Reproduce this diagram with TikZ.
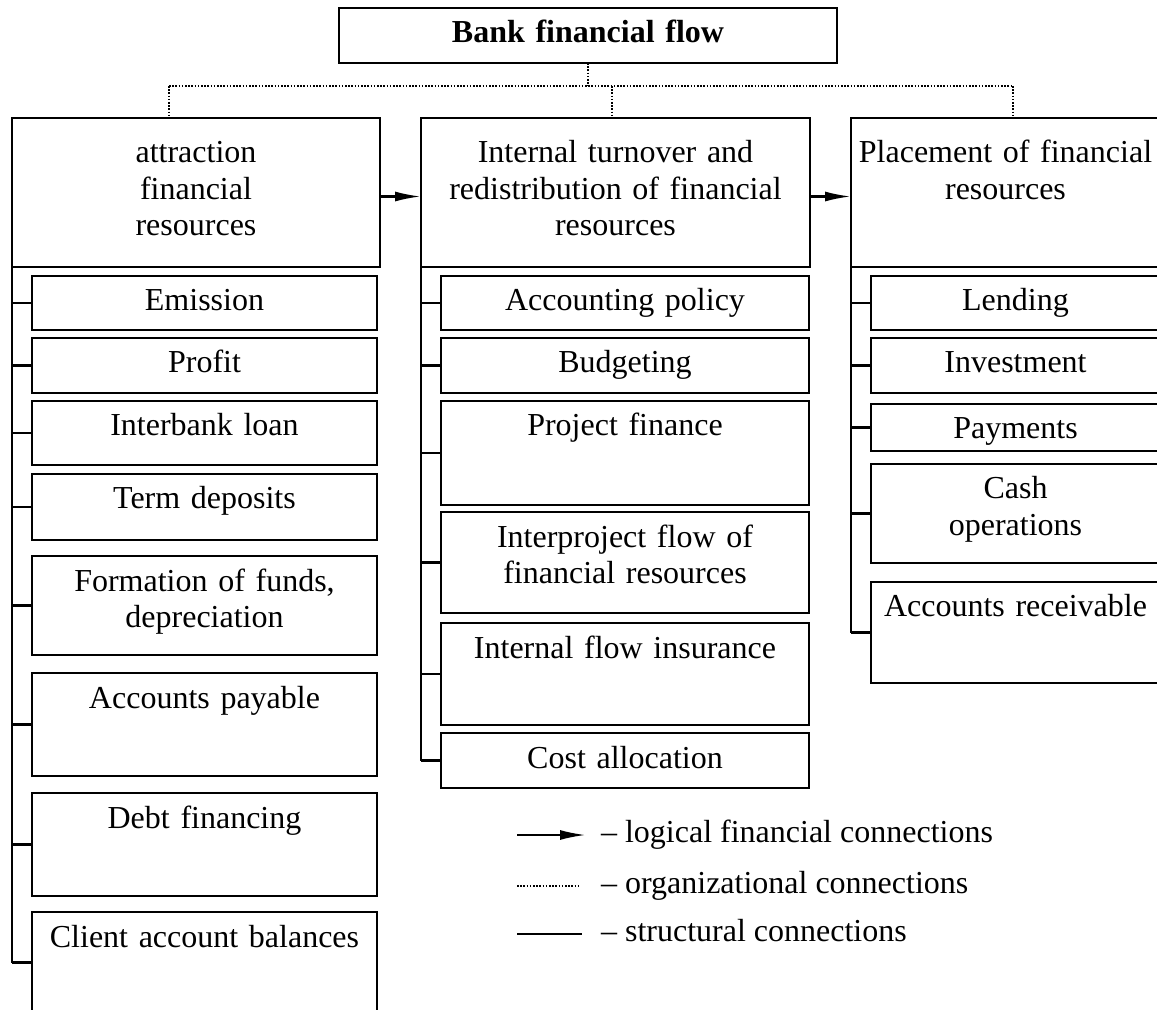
\documentclass[tikz,border=0pt]{standalone}
\usepackage{fontspec}
\setmainfont{Liberation Serif}
\usetikzlibrary{arrows.meta}

\tikzset{
  box/.style={draw, line width=1.15pt, outer sep=0pt, inner xsep=3pt, inner ysep=0pt,
    align=center, anchor=north west, text height=17.5pt},
  head/.style={box, text height=22.5pt, text depth=52pt},
  org/.style={line width=1.1pt, dash pattern=on 0.8pt off 0.8pt},
  fin/.style={line width=1.15pt, -{Latex[length=13pt,width=5pt]}},
  str/.style={line width=1.15pt},
  legtext/.style={anchor=west, text height=11pt, text depth=3.5pt}
}

\begin{document}
\begin{tikzpicture}[x=0.5pt, y=-0.5pt, font=\fontsize{16}{18.25}\selectfont]
  \useasboundingbox (0,0) rectangle (1157,1010);

  % top and the three headers
  \node[box, text width=243pt, text depth=10pt] (title) at (339,8) {\textbf{Bank financial flow}};
  \node[head, text width=178pt] (attr) at (12,118) {attraction\\ financial\\ resources};
  \node[head, text width=188.5pt] (turn) at (421,118) {Internal turnover and\\ redistribution of financial\\ resources};
  \node[head, text width=148.5pt] (place) at (851,118) {Placement of financial\\ resources};

  % items of each column
  \foreach \nm/\ya/\yb/\txt in {emis/276/330/Emission, prof/338/393/Profit,
      loan/401/465/Interbank loan, term/474/540/Term deposits,
      fund/556/655/{Formation of funds,\\ depreciation}, paya/673/776/Accounts payable,
      debt/793/896/Debt financing, bal/912/1013/Client account balances}
    \node[box, text width=166.5pt, text depth=(\yb-\ya)*0.5pt-17.5pt] (\nm) at (32,\ya) {\txt};
  \foreach \nm/\ya/\yb/\txt in {acc/276/330/Accounting policy, budg/338/393/Budgeting,
      proj/401/505/Project finance, flow/512/613/{Interproject flow of\\ financial resources},
      insur/623/725/Internal flow insurance, cost/733/788/Cost allocation}
    \node[box, text width=178pt, text depth=(\yb-\ya)*0.5pt-17.5pt] (\nm) at (441,\ya) {\txt};
  \foreach \nm/\ya/\yb/\txt in {lend/276/330/Lending, inv/338/393/Investment,
      pay/404/451/Payments, cash/464/563/{Cash\\ operations},
      recv/582/683/Accounts receivable}
    \node[box, text width=138.5pt, text depth=(\yb-\ya)*0.5pt-17.5pt] (\nm) at (871,\ya) {\txt};

  % structural connections
  \draw[str] (attr.south west) -- (attr.south west |- bal.west);
  \foreach \nm in {emis,prof,loan,term,fund,paya,debt,bal}
    \draw[str] (attr.south west |- \nm.west) -- (\nm.west);
  \draw[str] (turn.south west) -- (turn.south west |- cost.west);
  \foreach \nm in {acc,budg,proj,flow,insur,cost}
    \draw[str] (turn.south west |- \nm.west) -- (\nm.west);
  \draw[str] (place.south west) -- (place.south west |- recv.west);
  \foreach \nm in {lend,inv,pay,cash,recv}
    \draw[str] (place.south west |- \nm.west) -- (\nm.west);

  % organizational connections
  \coordinate (bus1) at (169,86);
  \coordinate (bus2) at (612,86);
  \coordinate (bus3) at (1013,86);
  \draw[org] (title.south) -- (title.south |- bus1);
  \draw[org] (bus1) -- (bus3);
  \draw[org] (bus1) -- (bus1 |- attr.north);
  \draw[org] (bus2) -- (bus2 |- turn.north);
  \draw[org] (bus3) -- (bus3 |- place.north);

  % logical financial connections
  \draw[fin] ([yshift=-2pt]attr.east) -- ([yshift=-2pt]turn.west);
  \draw[fin] ([yshift=-2pt]turn.east) -- ([yshift=-2pt]place.west);

  % legend
  \coordinate (k1) at (517,835);
  \coordinate (k2) at (586,835);
  \coordinate (k3) at (517,886);
  \coordinate (k4) at (580,886);
  \coordinate (k5) at (517,934);
  \coordinate (k6) at (582,934);
  \draw[fin] (k1) -- (k2);
  \draw[org] (k3) -- (k4);
  \draw[str] (k5) -- (k6);
  \node[legtext] (lfin) at (594,835) {– logical financial connections};
  \node[legtext] (lorg) at (594,886) {– organizational connections};
  \node[legtext] (lstr) at (594,934) {– structural connections};
\end{tikzpicture}
\end{document}
